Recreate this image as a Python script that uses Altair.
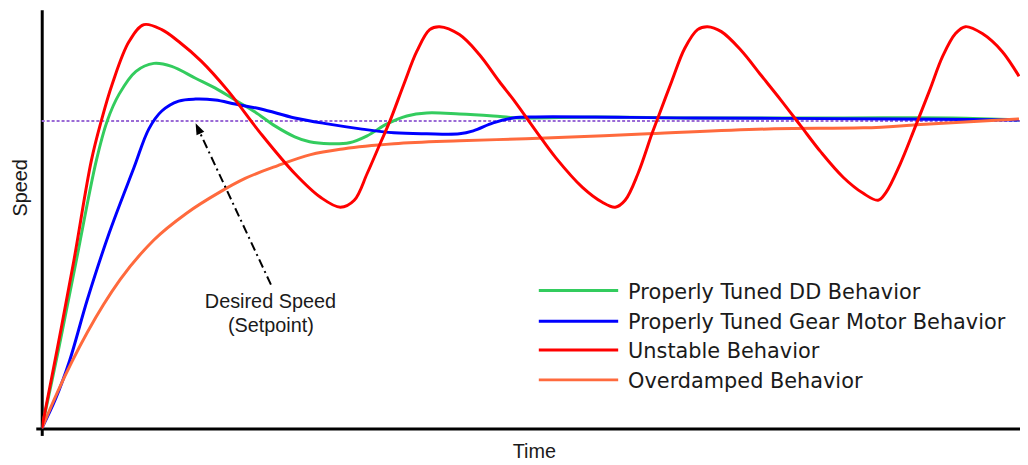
import altair as alt
import pandas as pd

# ---------------- data ----------------
series_names = [
    "Properly Tuned DD Behavior",
    "Properly Tuned Gear Motor Behavior",
    "Unstable Behavior",
    "Overdamped Behavior",
]
series_colors = ["#33cc5e", "#0000ff", "#ff0000", "#ff6a3d"]

green_t = [0, 17, 34, 55, 66, 78, 95, 113, 131, 155, 175, 195, 215, 235, 255, 270, 290, 310, 328, 348,
           368, 388, 421, 455, 481, 558, 658, 808, 918, 985]
green_v = [0, 80, 165, 270, 310, 337, 360, 368, 365, 353, 343, 331, 319, 305, 294, 289, 287, 288, 295, 307,
           315, 318, 317, 315, 313, 314, 313, 313, 313, 311]

blue_t = [0, 14, 28, 46, 68, 93, 108, 121, 138, 155, 175, 195, 221, 255, 288, 321, 355, 388, 421, 435,
          455, 475, 498, 658, 858, 985]
blue_v = [0, 30, 68, 130, 197, 263, 302, 320, 330, 332, 331, 327, 322, 313, 307, 302, 298, 297, 297, 300,
          308, 313, 314, 313, 312, 311]

red_t = [0, 16, 32, 50, 60, 71, 88, 103, 121, 138, 161, 188, 221, 255, 281, 301, 315, 328, 341, 351,
         365, 378, 391, 401, 421, 441, 461, 478, 498, 518, 545, 565, 578, 588, 601, 615, 621, 635, 648, 661,
         671, 685, 705, 725, 745, 765, 785, 808, 828, 843, 851, 865, 880, 895, 908, 921, 931, 948, 968, 985]
red_v = [0, 82, 167, 270, 310, 347, 390, 407, 402, 390, 370, 340, 297, 257, 233, 223, 230, 257, 287, 310,
         347, 380, 402, 405, 397, 377, 350, 328, 300, 273, 243, 228, 223, 230, 257, 297, 313, 350, 383, 402,
         405, 400, 381, 356, 331, 305, 279, 253, 237, 230, 238, 266, 303, 341, 375, 398, 405, 398, 380, 355]

orange_t = [0, 16, 46, 79, 113, 146, 179, 205, 238, 271, 305, 355, 421, 488, 611, 738, 828, 895, 985]
orange_v = [0, 37, 97, 150, 190, 217, 238, 252, 265, 276, 282, 287, 290, 292, 297, 302, 303, 307, 312]

setpoint = 310
annotation_lines = ["Desired Speed", "(Setpoint)"]

X_MAX = 986
Y_MAX = 422
FONT = "Liberation Sans"
LEGEND_FONT = "DejaVu Sans"
TEXT_COLOR = "#1a1a1a"

# ---------------- scales / axes ----------------
xs = alt.Scale(domain=[0, X_MAX], nice=False, zero=False)
ys = alt.Scale(domain=[0, Y_MAX], nice=False, zero=False)

x_axis = alt.Axis(
    title="Time", labels=False, values=[0], tickSize=7, tickWidth=3, tickColor="black",
    domainColor="black", domainWidth=3, grid=False,
    titleFont=FONT, titleFontSize=20, titleFontWeight="normal", titleColor=TEXT_COLOR,
    titleY=23, titleBaseline="middle", titleX=496, titleAlign="center",
)
y_axis = alt.Axis(
    title="Speed", labels=False, values=[0], tickSize=6, tickWidth=3, tickColor="black",
    domainColor="black", domainWidth=3, grid=False,
    titleFont=FONT, titleFontSize=20, titleFontWeight="normal", titleColor=TEXT_COLOR,
    titleX=-21, titleY=179, titleAngle=270, titleAlign="center", titleBaseline="middle",
)


def X(field):
    return alt.X(field, type="quantitative", scale=xs, axis=x_axis)


def Y(field):
    return alt.Y(field, type="quantitative", scale=ys, axis=y_axis)


layers = []

# setpoint line
sp_df = pd.DataFrame({"t": [0, X_MAX], "v": [setpoint, setpoint]})
layers.append(
    alt.Chart(sp_df).mark_line(color="#9a6ad6", strokeWidth=2, strokeDash=[3, 2])
    .encode(x=X("t"), y=Y("v"))
)

# response curves (draw order: green, blue, orange, red)
curves = [
    (series_names[0], green_t, green_v, series_colors[0], "catmull-rom"),
    (series_names[1], blue_t, blue_v, series_colors[1], "catmull-rom"),
    (series_names[3], orange_t, orange_v, series_colors[3], "monotone"),
    (series_names[2], red_t, red_v, series_colors[2], "catmull-rom"),
]
for name, ts, vs, col, interp in curves:
    df = pd.DataFrame({"t": ts, "v": vs, "series": name})
    layers.append(
        alt.Chart(df).mark_line(color=col, strokeWidth=3, interpolate=interp, clip=True)
        .encode(x=X("t"), y=Y("v"))
    )

# annotation arrow (dash-dot) and head
arrow_df = pd.DataFrame({"t": [231], "v": [145], "t2": [160], "v2": [297]})
layers.append(
    alt.Chart(arrow_df).mark_rule(color="black", strokeWidth=2, strokeDash=[9, 4, 2, 4])
    .encode(x=X("t"), y=Y("v"), x2="t2", y2="v2")
)
head_df = pd.DataFrame({"t": [157.5], "v": [302.5]})
layers.append(
    alt.Chart(head_df).mark_point(shape="M0,-1L0.75,1L-0.75,1Z", filled=True, color="black",
                                  size=130, angle=335, opacity=1, strokeWidth=0)
    .encode(x=X("t"), y=Y("v"))
)

# annotation text
ann_df = pd.DataFrame({"t": [230.5, 231], "v": [127, 103], "label": annotation_lines})
layers.append(
    alt.Chart(ann_df).mark_text(font=FONT, fontSize=20, color=TEXT_COLOR, align="center", baseline="middle")
    .encode(x=X("t"), y=Y("v"), text="label:N")
)

# manual legend
legend_rows = [139, 108, 79, 49]
leg_df = pd.DataFrame({
    "name": series_names,
    "color": series_colors,
    "x0": [501] * 4,
    "x1": [581] * 4,
    "xt": [591] * 4,
    "row": legend_rows,
})
layers.append(
    alt.Chart(leg_df).mark_rule(strokeWidth=3)
    .encode(x=X("x0"), x2="x1", y=Y("row"),
            color=alt.Color("color:N", scale=None))
)
layers.append(
    alt.Chart(leg_df).mark_text(font=LEGEND_FONT, fontSize=21, color=TEXT_COLOR, align="left",
                                baseline="middle", dy=2)
    .encode(x=X("xt"), y=Y("row"), text="name:N")
)

chart = (
    alt.layer(*layers)
    .properties(
        width=X_MAX, height=Y_MAX,
        autosize=alt.AutoSizeParams(type="none"),
        padding={"left": 34, "top": 0, "right": 0, "bottom": 35},
        background="white",
    )
    .configure_view(stroke=None)
)

chart.save("out.html", embed_options={"renderer": "svg", "actions": False})
